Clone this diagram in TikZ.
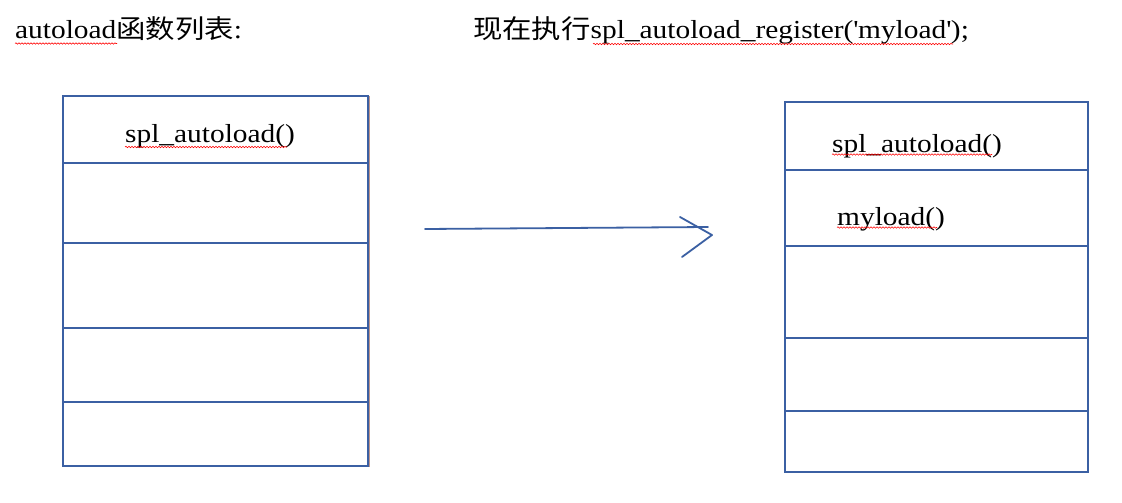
\documentclass[tikz,border=0pt]{standalone}
\usepackage{fontspec}
\setmainfont{Liberation Serif}[FakeStretch=1.13]
\newfontfamily\cjk{Noto Sans CJK SC}[FakeStretch=1.13]
\usetikzlibrary{decorations.pathmorphing}
\definecolor{tblue}{RGB}{59,96,163}
\definecolor{tbrown}{RGB}{190,150,140}
\begin{document}
\begin{tikzpicture}[x=1pt,y=-1pt,
  cell/.style={draw=tblue, line width=1.7pt, anchor=north west, inner sep=0pt, outer sep=0pt},
  lcell/.style={cell, minimum width=305pt},
  rcell/.style={cell, minimum width=303pt},
  txt/.style={anchor=base west, inner sep=0pt, font=\fontsize{26}{30}\selectfont},
  wavy/.style={draw=red, line width=0.6pt, decorate, decoration={snake, amplitude=0.7pt, segment length=3pt}},
  conn/.style={draw=tblue, line width=1.8pt, line cap=round, line join=round}]
\useasboundingbox (0,0) rectangle (1122,503);
\fill[white] (0,0) rectangle (1122,503);

% titles
\node[txt] (title1) at (15,39) {autoload{\cjk 函数列表}:};
\node[txt] (title2) at (473,39) {{\cjk 现在执行}spl\_autoload\_register(\textquotesingle myload\textquotesingle);};
\draw[wavy] (15,43.5) -- (117,43.5);
\draw[wavy] (593,44) -- (953,44);

% left table
\draw[tbrown, line width=1pt] (369.5,96) -- (369.5,467);
\node[lcell, minimum height=67pt] (L1) at (63,96) {};
\node[lcell, minimum height=80pt] (L2) at (63,163) {};
\node[lcell, minimum height=85pt] (L3) at (63,243) {};
\node[lcell, minimum height=74pt] (L4) at (63,328) {};
\node[lcell, minimum height=64pt] (L5) at (63,402) {};
\node[txt] (lt1) at (125,142) {spl\_autoload()};
\draw[wavy] (125,147) -- (287,147);

% right table
\node[rcell, minimum height=68pt] (R1) at (785,102) {};
\node[rcell, minimum height=76pt] (R2) at (785,170) {};
\node[rcell, minimum height=92pt] (R3) at (785,246) {};
\node[rcell, minimum height=73pt] (R4) at (785,338) {};
\node[rcell, minimum height=61pt] (R5) at (785,411) {};
\node[txt] (rt1) at (832,152) {spl\_autoload()};
\node[txt] (rt2) at (837,225) {myload()};
\draw[wavy] (832,154.5) -- (992,154.5);
\draw[wavy] (837,227.5) -- (937,227.5);

% arrow
\coordinate (a0) at (425,229);
\coordinate (a1) at (708,227);
\coordinate (h1) at (680,217);
\coordinate (h2) at (712,235);
\coordinate (h3) at (682,257);
\draw[conn] (a0) -- (a1);
\draw[conn] (h1) -- (h2) -- (h3);
\end{tikzpicture}
\end{document}
